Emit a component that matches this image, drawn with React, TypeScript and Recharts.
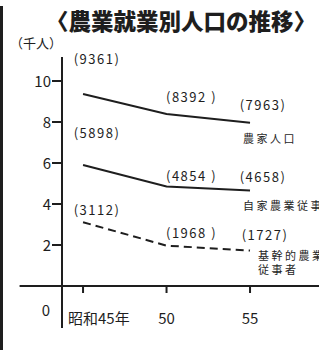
import { LabelList, Line, LineChart, ReferenceLine, XAxis, YAxis } from 'recharts'

const years = [45, 50, 55]
const farmHousehold = [9361, 8392, 7963]
const selfEmployed = [5898, 4854, 4658]
const coreWorkers = [3112, 1968, 1727]
const yTicks = [0, 2, 4, 6, 8, 10]

const font = '"Noto Sans CJK JP", "Noto Sans", sans-serif'
const ink = '#1e1e1e'

const data = years.map((y, i) => ({
  year: y,
  farm: farmHousehold[i] / 1000,
  self: selfEmployed[i] / 1000,
  core: coreWorkers[i] / 1000,
  farmRaw: farmHousehold[i],
  selfRaw: selfEmployed[i],
  coreRaw: coreWorkers[i],
}))

// label offsets (dx, dy) from each point
const offsets: Record<string, [number, number][]> = {
  farm: [[14, -36], [25, -17], [13, -18]],
  self: [[14, -33], [25, -11], [13, -14]],
  core: [[14, -13], [25, -13], [15, -16]],
}

const names: Record<string, { lines: string[]; dx: number; dy: number }> = {
  farm: { lines: ['農家人口'], dx: -7, dy: 15 },
  self: { lines: ['自家農業従事者'], dx: -7, dy: 15 },
  core: { lines: ['基幹的農業', '従事者'], dx: 8, dy: 4 },
}

function makeLabel(key: string) {
  return (props: any) => {
    const { x, y, index } = props
    const raw = data[index][(key + 'Raw') as 'farmRaw']
    const [dx, dy] = offsets[key][index]
    const text = index === 1 ? `(${raw} )` : `(${raw})`
    const nm = names[key]
    return (
      <g>
        <text x={x + dx} y={y + dy} textAnchor="middle" dominantBaseline="central" fontSize={13} letterSpacing={1.5} fill={ink} fontFamily={font}>
          {text}
        </text>
        {index === data.length - 1 &&
          nm.lines.map((l, j) => (
            <text key={j} x={x + nm.dx} y={y + nm.dy + j * 14} dominantBaseline="central" fontSize={11} letterSpacing={2.5} fill={ink} fontFamily={font}>
              {l}
            </text>
          ))}
      </g>
    )
  }
}

function YTick(props: any) {
  const { x, y, payload } = props
  const zero = payload.value === 0
  return (
    <g>
      {!zero && <line x1={x + 1} x2={x + 11} y1={y} y2={y} stroke={ink} strokeWidth={2} />}
      <text x={zero ? x - 1 : x} y={zero ? y + 24 : y} textAnchor="end" dominantBaseline="central" fontSize={15} fill={ink} fontFamily={font}>
        {payload.value}
      </text>
    </g>
  )
}

function XTick(props: any) {
  const { x, y, payload } = props
  const first = payload.value === years[0]
  return (
    <g>
      <line x1={x} x2={x} y1={y - 42} y2={y - 35} stroke={ink} strokeWidth={2} />
      <text
        x={first ? x - 15 : x}
        y={y - 11}
        textAnchor={first ? 'start' : 'middle'}
        dominantBaseline="central"
        fontSize={15}
        fill={ink}
        fontFamily={font}
      >
        {first ? `昭和${payload.value}年` : payload.value}
      </text>
    </g>
  )
}

export default function App() {
  return (
    <div style={{ position: 'absolute', left: 0, top: 0, width: 319, height: 360, background: '#fff', overflow: 'hidden' }}>
      <div style={{ position: 'absolute', left: 0, top: 6, width: 3, height: 344, background: ink }} />
      <div
        style={{
          position: 'absolute',
          left: 36,
          top: 4,
          width: 290,
          textAlign: 'center',
          fontFamily: font,
          fontWeight: 900,
          fontSize: 22.5,
          color: ink,
          whiteSpace: 'nowrap',
          lineHeight: '32px',
        }}
      >
        〈農業就業別人口の推移〉
      </div>
      <div style={{ position: 'absolute', left: 10, top: 34, fontFamily: font, fontSize: 13, color: ink, lineHeight: '18px' }}>
        （千人）
      </div>
      <LineChart width={319} height={360} data={data} margin={{ top: 57, right: 0, bottom: 0, left: 0 }}>
        <XAxis
          dataKey="year"
          type="number"
          domain={[43.74, 59.13]}
          ticks={years}
          axisLine={false}
          tickLine={false}
          tickSize={0}
          tickMargin={0}
          height={32}
          tick={<XTick />}
          allowDataOverflow
        />
        <YAxis
          type="number"
          domain={[-2.05, 11.17]}
          ticks={yTicks}
          width={62}
          axisLine={{ stroke: ink, strokeWidth: 2 }}
          tickLine={false}
          tickSize={10}
          tickMargin={1}
          tick={<YTick />}
          allowDataOverflow
        />
        <ReferenceLine
          segment={[{ x: 41.2, y: 0 }, { x: 59.13, y: 0 }]}
          ifOverflow="visible"
          stroke={ink}
          strokeWidth={2}
        />
        <Line dataKey="farm" stroke={ink} strokeWidth={2} dot={false} isAnimationActive={false}>
          <LabelList dataKey="farm" content={makeLabel('farm')} />
        </Line>
        <Line dataKey="self" stroke={ink} strokeWidth={2} dot={false} isAnimationActive={false}>
          <LabelList dataKey="self" content={makeLabel('self')} />
        </Line>
        <Line dataKey="core" stroke={ink} strokeWidth={2} strokeDasharray="8 5" dot={false} isAnimationActive={false}>
          <LabelList dataKey="core" content={makeLabel('core')} />
        </Line>
      </LineChart>
    </div>
  )
}
